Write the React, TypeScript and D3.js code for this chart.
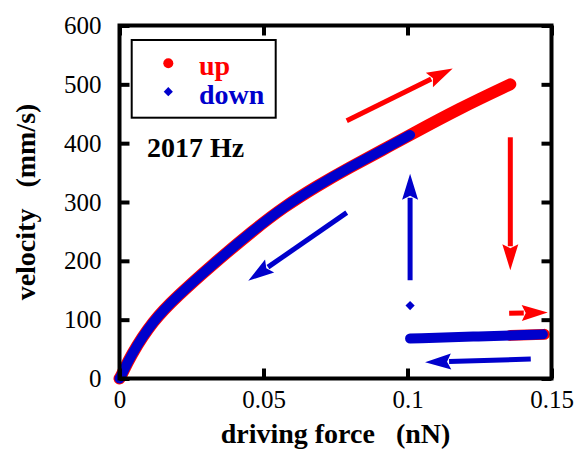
import { useEffect, useRef } from "react";
import * as d3 from "d3";

// force (nN), velocity (mm/s) pairs
const upCurve: [number, number][] = [
  [0, 0], [0.0008, 6], [0.0036, 37], [0.0117, 99], [0.0199, 139], [0.0314, 190],
  [0.047, 254], [0.0569, 291], [0.0685, 327], [0.08, 359], [0.0916, 389],
  [0.1009, 414], [0.118, 459], [0.1357, 500],
];
const upLow: [number, number][] = [[0.1357, 73.3], [0.1475, 75]];
const downLow: [number, number][] = [[0.1009, 68], [0.125, 71.5], [0.147, 75]];
const downJump: [number, number][] = [[0.1009, 124]];
const downCurve: [number, number][] = upCurve.filter((d) => d[0] <= 0.1009);

const xTicks = [0, 0.05, 0.1, 0.15];
const xTickLabels = ["0", "0.05", "0.1", "0.15"];
const yTicks = [0, 100, 200, 300, 400, 500, 600];

// arrows: [tail, tip] in data units
const redArrows: [number, number][][] = [
  [[0.0789, 438], [0.1157, 527]],
  [[0.1357, 410], [0.1357, 184]],
  [[0.1353, 111], [0.1487, 112]],
];
const blueArrows: [number, number][][] = [
  [[0.1009, 167], [0.1009, 348]],
  [[0.0789, 282], [0.0447, 166]],
  [[0.1428, 33], [0.1061, 27.5]],
];

const RED = "#ff0000";
const BLUE = "#0000cc";
const FONT = "Liberation Serif, Times New Roman, Times, serif";

export default function App() {
  const svgRef = useRef<SVGSVGElement>(null);

  useEffect(() => {
    const svg = d3.select(svgRef.current);
    svg.selectAll("*").remove();

    const x = d3.scaleLinear().domain([0, 0.15]).range([119.5, 551.5]);
    const y = d3.scaleLinear().domain([0, 600]).range([378.5, 25.5]);

    const line = d3.line<[number, number]>()
      .x((d) => x(d[0])).y((d) => y(d[1]))
      .curve(d3.curveBasis);

    // data: up first (red), down on top (blue)
    svg.append("path").attr("d", line(upCurve)).attr("fill", "none")
      .attr("stroke", RED).attr("stroke-width", 12).attr("stroke-linecap", "round");
    svg.append("path").attr("d", line(upLow)).attr("fill", "none")
      .attr("stroke", RED).attr("stroke-width", 11).attr("stroke-linecap", "round");
    for (const seg of [downCurve, downLow]) {
      svg.append("path").attr("d", line(seg)).attr("fill", "none")
        .attr("stroke", BLUE).attr("stroke-width", 10).attr("stroke-linecap", "round");
    }
    svg.selectAll("path.jump").data(downJump).enter().append("path")
      .attr("class", "jump")
      .attr("d", d3.symbol(d3.symbolSquare, 42)())
      .attr("transform", (d) => `translate(${x(d[0])},${y(d[1])}) rotate(45)`)
      .attr("fill", BLUE);

    // arrows
    const drawArrow = (a: [number, number][], color: string) => {
      const x0 = x(a[0][0]), y0 = y(a[0][1]);
      const x1 = x(a[1][0]), y1 = y(a[1][1]);
      const len = Math.hypot(x1 - x0, y1 - y0);
      const ux = (x1 - x0) / len, uy = (y1 - y0) / len;
      const hl = 26, hw = 8;
      const bx = x1 - ux * hl, by = y1 - uy * hl;
      svg.append("line").attr("x1", x0).attr("y1", y0).attr("x2", bx + ux * 2).attr("y2", by + uy * 2)
        .attr("stroke", color).attr("stroke-width", 5);
      svg.append("polygon")
        .attr("points", `${x1},${y1} ${bx - uy * hw},${by + ux * hw} ${bx + ux * 4},${by + uy * 4} ${bx + uy * hw},${by - ux * hw}`)
        .attr("fill", color);
    };
    redArrows.forEach((a) => drawArrow(a, RED));
    blueArrows.forEach((a) => drawArrow(a, BLUE));

    // frame + inward ticks
    const styleAxis = (sel: d3.Selection<SVGGElement, unknown, null, undefined>) => {
      sel.select(".domain").remove();
      sel.attr("font-family", null).attr("font-size", null);
      sel.selectAll(".tick line").attr("stroke", "#000").attr("stroke-width", 4);
      sel.selectAll(".tick text").attr("fill", "#000")
        .style("font-family", FONT).style("font-size", "25px");
    };
    svg.append("g").attr("transform", `translate(0,${y(0)})`)
      .call(d3.axisBottom(x).tickValues(xTicks).tickSize(-10).tickPadding(12)
        .tickFormat((_d, i) => xTickLabels[i]))
      .call(styleAxis);
    svg.append("g").attr("transform", `translate(0,${y(600)})`)
      .call(d3.axisTop(x).tickValues(xTicks).tickSize(-10).tickFormat(() => ""))
      .call(styleAxis);
    svg.append("g").attr("transform", `translate(${x(0)},0)`)
      .call(d3.axisLeft(y).tickValues(yTicks).tickSize(-10).tickPadding(18))
      .call(styleAxis);
    svg.append("g").attr("transform", `translate(${x(0.15)},0)`)
      .call(d3.axisRight(y).tickValues(yTicks).tickSize(-10).tickFormat(() => ""))
      .call(styleAxis);
    svg.append("rect")
      .attr("x", x(0)).attr("y", y(600))
      .attr("width", x(0.15) - x(0)).attr("height", y(0) - y(600))
      .attr("fill", "none").attr("stroke", "#000").attr("stroke-width", 4);

    const boldText = (tx: number, ty: number, s: string, color = "#000") =>
      svg.append("text").attr("x", tx).attr("y", ty)
        .style("font-family", FONT).style("font-weight", "bold").style("font-size", "28px")
        .style("white-space", "pre").attr("fill", color).text(s);

    // axis titles
    boldText((x(0) + x(0.15)) / 2, 443, "driving force   (nN)").attr("text-anchor", "middle");
    boldText(0, 0, "velocity   (mm/s)")
      .attr("transform", `translate(35,${(y(0) + y(600)) / 2}) rotate(-90)`)
      .attr("text-anchor", "middle");

    // legend
    svg.append("rect").attr("x", 131.7).attr("y", 40).attr("width", 144).attr("height", 77.7)
      .attr("fill", "#fff").attr("stroke", "#000").attr("stroke-width", 2);
    svg.append("circle").attr("cx", 168.3).attr("cy", 63.3).attr("r", 5).attr("fill", RED);
    svg.append("path").attr("d", d3.symbol(d3.symbolSquare, 42)())
      .attr("transform", "translate(168.3,91.7) rotate(45)").attr("fill", BLUE);
    boldText(199, 75, "up", RED);
    boldText(199, 104, "down", BLUE);

    boldText(147, 157, "2017 Hz");
  }, []);

  return (
    <svg ref={svgRef} width={576} height={453}
      style={{ position: "absolute", left: 0, top: 0, background: "#fff" }} />
  );
}
